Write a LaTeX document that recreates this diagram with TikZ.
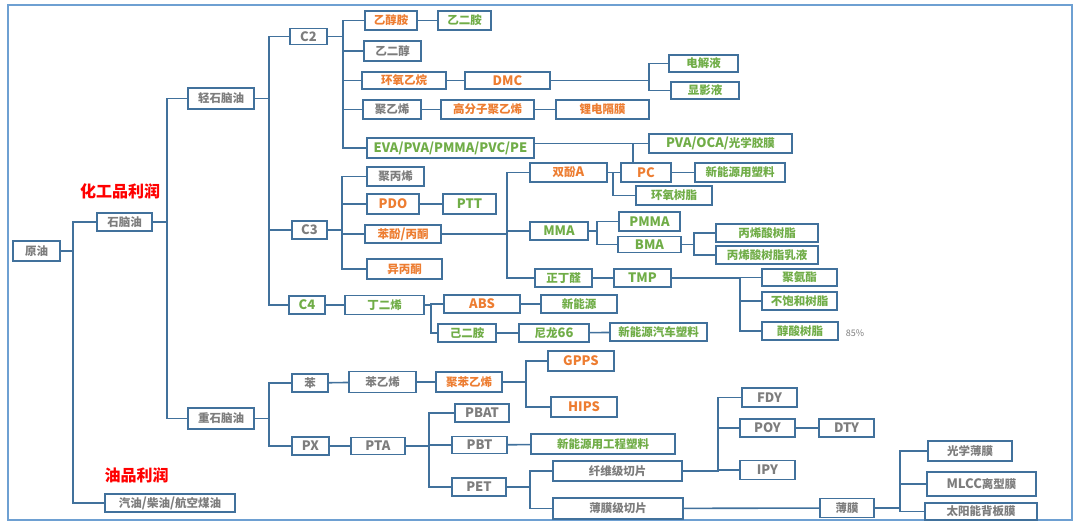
\documentclass[tikz,border=0pt]{standalone}
\usepackage{fontspec}
\setmainfont{Noto Sans CJK SC}
\definecolor{bl}{RGB}{65,113,156}
\definecolor{framec}{RGB}{110,160,210}
\definecolor{tgray}{RGB}{125,125,125}
\definecolor{torange}{RGB}{237,125,49}
\definecolor{tgreen}{RGB}{112,173,71}
\definecolor{tred}{RGB}{255,0,0}
\newcommand\treeconn[3]{\draw[ln] (#1.east) -- (#1.east -| #2) |- (#3.west);}
\newcommand\La[1]{{\fontsize{13}{13}\selectfont #1}}
\begin{document}
\begin{tikzpicture}[x=1pt,y=-1pt,
  bx/.style={draw=bl, line width=1.7pt, fill=white, inner sep=0pt, minimum height=19pt,
    font=\fontsize{11.5}{12}\selectfont\bfseries, text height=8.8pt, text depth=0pt},
  lt/.style={font=\fontsize{13}{13}\selectfont\bfseries, text height=9.4pt},
  gy/.style={bx, text=tgray},
  og/.style={bx, text=torange},
  gn/.style={bx, text=tgreen},
  wh/.style 2 args={minimum width=#1pt, minimum height=#2pt},
  ln/.style={draw=bl, line width=1.6pt},
  lab/.style={font=\fontsize{16}{16}\selectfont\bfseries, text=tred, inner sep=0pt},
]
\useasboundingbox (0,0) rectangle (1080,525);
\draw[framec, line width=1.6pt] (8,5) rectangle (1072,520);

% bus coordinates
\coordinate (k0) at (73,0);
\coordinate (k1) at (167,0);
\coordinate (k2) at (269,0);
\coordinate (k3) at (343,0);
\coordinate (k4) at (342,0);
\coordinate (k5) at (649,0);
\coordinate (k6) at (507,0);
\coordinate (k7) at (613,0);
\coordinate (k8) at (597,0);
\coordinate (k9) at (694,0);
\coordinate (k10) at (740,0);
\coordinate (k11) at (431,0);
\coordinate (k12) at (526,0);
\coordinate (k13) at (429,0);
\coordinate (k14) at (530,0);
\coordinate (k15) at (718,0);
\coordinate (k16) at (900,0);
\coordinate (kp) at (633,0);

% level nodes
\node[gy, wh={47}{20}] (yy) at (36.5,251) {原油};
\node[gy, wh={55}{18}] (snaoyou) at (124.5,222) {石脑油};
\node[gy, wh={66}{21}] (qing) at (221,98.5) {轻石脑油};
\node[gy, wh={66}{21}] (zhong) at (221,418.5) {重石脑油};
\node[gy, wh={130}{18}] (qiyou) at (170,503) {汽油\La{/}柴油\La{/}航空煤油};
\node[lab] (lab1) at (120,191) {化工品利润};
\node[lab] (lab2) at (136.5,475) {油品利润};

\node[gy, lt, wh={37}{16}] (c2) at (308.5,36.5) {C2};
\node[gy, lt, wh={35}{18}] (c3) at (309.5,230) {C3};
\node[gn, lt, wh={36}{18}] (c4) at (307,305) {C4};
\node[gy, wh={36}{18}] (ben) at (310,383) {苯};
\node[gy, lt, wh={37}{18}] (px) at (310.5,446) {PX};

% C2 branch
\node[og, wh={52}{19}] (ych) at (391,20.5) {乙醇胺};
\node[gn, wh={53}{19}] (yea) at (464.5,20.5) {乙二胺};
\node[gy, wh={57}{20}] (yec) at (392.5,51) {乙二醇};
\node[og, wh={84}{17}] (hy) at (404,80.5) {环氧乙烷};
\node[og, lt, wh={85}{17}] (dmc) at (507.5,80.5) {DMC};
\node[gn, wh={69}{17}] (djy) at (703.5,63.5) {电解液};
\node[gn, wh={68}{17}] (xyy) at (705,90.5) {显影液};
\node[gy, wh={58}{19}] (jy) at (392,109.5) {聚乙烯};
\node[og, wh={93}{19}] (gfz) at (487.5,109.5) {高分子聚乙烯};
\node[og, wh={93}{19}] (ldg) at (602.5,109.5) {锂电隔膜};
\node[gn, lt, wh={167}{20}] (eva) at (450.5,148) {EVA/PVA/PMMA/PVC/PE};
\node[gn, wh={143}{19}] (pvaoca) at (720.5,143.5) {\La{PVA/OCA/}光学胶膜};

% C3 branch
\node[gy, wh={57}{19}] (jbx) at (395.5,176.5) {聚丙烯};
\node[og, lt, wh={52}{20}] (pdo) at (393,204) {PDO};
\node[gn, lt, wh={53}{20}] (ptt) at (469.5,204) {PTT};
\node[og, wh={76}{18}] (bfbt) at (403,234) {苯酚\La{/}丙酮};
\node[og, wh={75}{20}] (ybt) at (404.5,269) {异丙酮};
\node[og, wh={77}{19}] (sfa) at (568.5,172.5) {双酚\La{A}};
\node[og, lt, wh={50}{19}] (pc) at (646,172.5) {PC};
\node[gn, wh={90}{19}] (xnysl) at (740,172.5) {新能源用塑料};
\node[gn, wh={76}{19}] (hysz) at (674,195.5) {环氧树脂};
\node[gn, lt, wh={58}{18}] (mma) at (559,231) {MMA};
\node[gn, lt, wh={61}{19}] (pmma) at (649.5,221.5) {PMMA};
\node[gn, lt, wh={63}{16}] (bma) at (649.5,244.5) {BMA};
\node[gn, wh={102}{18}] (bx1) at (767,233) {丙烯酸树脂};
\node[gn, wh={102}{18}] (bx2) at (767,255) {丙烯酸树脂乳液};
\node[gn, wh={57}{18}] (zdq) at (563.5,278) {正丁醛};
\node[gn, lt, wh={57}{18}] (tmp) at (642.5,278) {TMP};
\node[gn, wh={75}{17}] (pu) at (799.5,277.5) {聚氨酯};
\node[gn, wh={75}{18}] (bbh) at (799.5,301) {不饱和树脂};
\node[gn, wh={76}{18}] (csz) at (800,331) {醇酸树脂};
\node[font=\fontsize{9}{9}\selectfont, text=tgray, inner sep=0pt] (pct) at (855,333) {85\%};

% C4 branch
\node[gn, wh={79}{19}] (dex) at (384.5,305) {丁二烯};
\node[og, lt, wh={76}{18}] (abs) at (482,304) {ABS};
\node[gn, wh={76}{18}] (xny) at (579,304) {新能源};
\node[gn, wh={58}{18}] (ee) at (467,333) {己二胺};
\node[gn, wh={70}{18}] (nl) at (554,333) {尼龙\La{66}};
\node[gn, wh={97}{18}] (xnqc) at (658.5,332) {新能源汽车塑料};

% benzene branch
\node[gy, wh={67}{21}] (byx) at (382.5,382) {苯乙烯};
\node[og, wh={66}{20}] (jbyx) at (469,382) {聚苯乙烯};
\node[og, lt, wh={66}{20}] (gpps) at (581,361) {GPPS};
\node[og, lt, wh={66}{20}] (hips) at (584,407) {HIPS};

% PX branch
\node[gy, lt, wh={54}{17}] (pta) at (378,446) {PTA};
\node[gy, lt, wh={54}{18}] (pbat) at (482,413) {PBAT};
\node[gy, lt, wh={55}{17}] (pbt) at (479.5,445) {PBT};
\node[gn, wh={144}{20}] (gcsl) at (603,444) {新能源用工程塑料};
\node[gy, lt, wh={54}{18}] (pet) at (479,487) {PET};
\node[gy, wh={129}{20}] (xw) at (617.5,471) {纤维级切片};
\node[gy, wh={130}{21}] (bm) at (618,508.5) {薄膜级切片};
\node[gy, lt, wh={55}{19}] (fdy) at (769.5,397.5) {FDY};
\node[gy, lt, wh={55}{18}] (poy) at (767.5,428) {POY};
\node[gy, lt, wh={55}{18}] (dty) at (846.5,428) {DTY};
\node[gy, lt, wh={55}{19}] (ipy) at (767.5,470) {IPY};
\node[gy, wh={54}{19}] (bmm) at (847,508) {薄膜};
\node[gy, wh={84}{20}] (gx) at (970,451) {光学薄膜};
\node[gy, wh={109}{24}] (mlcc) at (981.5,484) {\La{MLCC}离型膜};
\node[gy, wh={112}{17}] (tyn) at (981,511.5) {太阳能背板膜};

% tree connectors
\treeconn{yy}{k0}{snaoyou}
\treeconn{yy}{k0}{qiyou}
\treeconn{snaoyou}{k1}{qing}
\treeconn{snaoyou}{k1}{zhong}
\treeconn{qing}{k2}{c2}
\treeconn{qing}{k2}{c3}
\treeconn{qing}{k2}{c4}
\treeconn{zhong}{k2}{ben}
\treeconn{zhong}{k2}{px}
\treeconn{c2}{k3}{ych}
\treeconn{c2}{k3}{yec}
\treeconn{c2}{k3}{hy}
\treeconn{c2}{k3}{jy}
\treeconn{c2}{k3}{eva}
\treeconn{c3}{k4}{jbx}
\treeconn{c3}{k4}{pdo}
\treeconn{c3}{k4}{bfbt}
\treeconn{c3}{k4}{ybt}
\treeconn{dmc}{k5}{djy}
\treeconn{dmc}{k5}{xyy}
\treeconn{bfbt}{k6}{sfa}
\treeconn{bfbt}{k6}{mma}
\treeconn{bfbt}{k6}{zdq}
\treeconn{sfa}{k7}{pc}
\treeconn{sfa}{k7}{hysz}
\treeconn{mma}{k8}{pmma}
\treeconn{mma}{k8}{bma}
\treeconn{bma}{k9}{bx1}
\treeconn{bma}{k9}{bx2}
\treeconn{tmp}{k10}{pu}
\treeconn{tmp}{k10}{bbh}
\treeconn{tmp}{k10}{csz}
\treeconn{dex}{k11}{abs}
\treeconn{dex}{k11}{ee}
\treeconn{jbyx}{k12}{gpps}
\treeconn{jbyx}{k12}{hips}
\treeconn{pta}{k13}{pbat}
\treeconn{pta}{k13}{pbt}
\treeconn{pta}{k13}{pet}
\treeconn{pet}{k14}{xw}
\treeconn{pet}{k14}{bm}
\treeconn{xw}{k15}{fdy}
\treeconn{xw}{k15}{poy}
\treeconn{xw}{k15}{ipy}
\treeconn{bmm}{k16}{gx}
\treeconn{bmm}{k16}{mlcc}
\treeconn{bmm}{k16}{tyn}

% straight connectors
\draw[ln] (ych) -- (yea);
\draw[ln] (hy) -- (dmc);
\draw[ln] (jy) -- (gfz);
\draw[ln] (gfz) -- (ldg);
\draw[ln] (eva.east |- pvaoca.west) -- (pvaoca.west);
\draw[ln] (pc.north -| kp) -- (pvaoca.west -| kp);
\draw[ln] (pc) -- (xnysl);
\draw[ln] (pdo) -- (ptt);
\draw[ln] (zdq) -- (tmp);
\draw[ln] (c4) -- (dex);
\draw[ln] (abs) -- (xny);
\draw[ln] (ee) -- (nl);
\draw[ln] (nl) -- (xnqc);
\draw[ln] (ben) -- (byx);
\draw[ln] (byx) -- (jbyx);
\draw[ln] (px) -- (pta);
\draw[ln] (pbt) -- (gcsl);
\draw[ln] (poy) -- (dty);
\draw[ln] (bm) -- (bmm);
\end{tikzpicture}
\end{document}
